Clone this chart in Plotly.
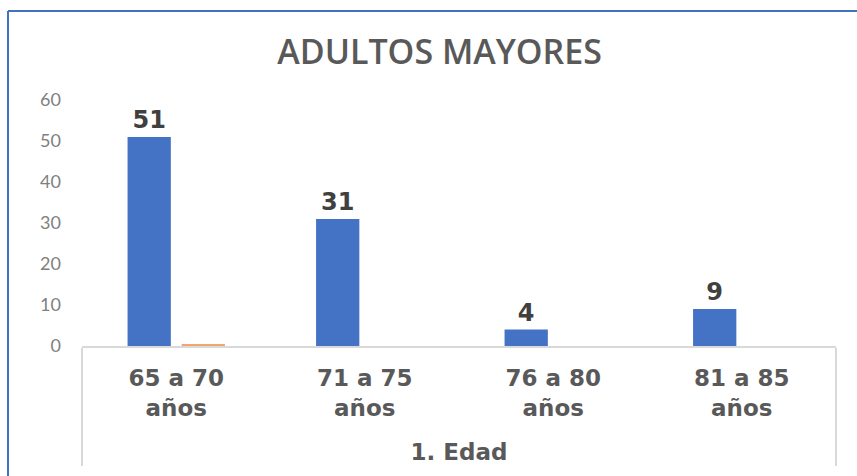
import plotly.graph_objects as go

outer = ["1. Edad", "1. Edad", "1. Edad", "1. Edad"]
pad = "<br><span style='font-size:8px'>\u00a0</span>"
categories = ["65 a 70<br>años" + pad, "71 a 75<br>años" + pad,
              "76 a 80<br>años" + pad, "81 a 85<br>años" + pad]
serie_azul = [51, 31, 4, 9]
serie_naranja = [0.5, 0, 0, 0]
y_ticks = [0, 10, 20, 30, 40, 50, 60]

fig = go.Figure()
fig.add_trace(go.Bar(
    x=[outer, categories], y=serie_azul, name="Serie 1",
    marker=dict(color="#4472C4", line=dict(width=0)),
    text=[str(v) for v in serie_azul], textposition="outside",
    textfont=dict(family="DejaVu Sans", size=24, color="#404040", weight="bold"),
    cliponaxis=False,
))
fig.add_trace(go.Bar(
    x=[outer, categories], y=serie_naranja, name="Serie 2",
    marker=dict(color="#F2A66E", line=dict(width=0)),
))

W, H = 857, 476
ml, mr, mt, mb = 82, 21, 100, 130
pw = W - ml - mr
ph = H - mt - mb

def px_to_paper_x(px):
    return (px - ml) / pw

def py_to_paper_y(py):
    return (H - mb - py) / ph

fig.update_layout(
    width=W, height=H,
    margin=dict(l=ml, r=mr, t=mt, b=mb, autoexpand=False),
    paper_bgcolor="white", plot_bgcolor="white",
    showlegend=False,
    barmode="group", bargap=0.426, bargroupgap=0.2,
    title=dict(text="ADULTOS MAYORES", x=0.513, xref="container", xanchor="center",
               y=1 - 52 / H, yref="container", yanchor="middle",
               font=dict(family="Open Sans", size=34, color="#595959", weight=600)),
    xaxis=dict(
        type="multicategory", automargin=False,
        showline=True, linecolor="#D9D9D9", linewidth=2,
        showdividers=True, dividercolor="#D9D9D9", dividerwidth=2,
        ticks="", ticklabelstandoff=10,
        tickfont=dict(family="DejaVu Sans", size=23, color="#595959", weight="bold"),
        showgrid=False, zeroline=False,
    ),
    yaxis=dict(
        range=[0, 60], tickvals=y_ticks, ticktext=[str(v) for v in y_ticks],
        automargin=False,
        showgrid=False, zeroline=False, showline=False,
        ticklabelstandoff=20,
        tickfont=dict(family="Lato", size=18, color="#7F7F7F"),
    ),
    shapes=[
        dict(type="line", xref="paper", yref="paper",
             x0=px_to_paper_x(8), x1=px_to_paper_x(857),
             y0=py_to_paper_y(11), y1=py_to_paper_y(11),
             line=dict(color="#3F73C0", width=2)),
        dict(type="line", xref="paper", yref="paper",
             x0=px_to_paper_x(8), x1=px_to_paper_x(8),
             y0=py_to_paper_y(11), y1=py_to_paper_y(476),
             line=dict(color="#3F73C0", width=2)),
    ],
)

fig.write_html(
    "out.html",
    config={"displayModeBar": False},
    post_script="document.body.style.margin='0';document.body.style.overflow='hidden';",
)
